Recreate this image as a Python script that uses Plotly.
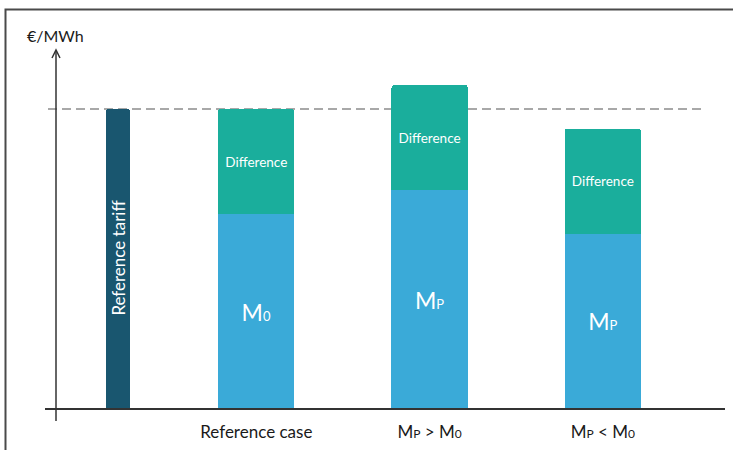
import plotly.graph_objects as go

# Values in €/MWh (reference tariff normalised to 100)
tariff_label = ["Reference tariff"]
tariff_value = [100]

cases = ["Reference case", "MP > M0", "MP < M0"]
market_values = [65, 73, 58.5]
differences = [35, 35, 35]

case_ticks = [
    "Reference case",
    "M<span style='font-size:12px'>P</span> &gt; M<span style='font-size:12px'>0</span>",
    "M<span style='font-size:12px'>P</span> &lt; M<span style='font-size:12px'>0</span>",
]
market_labels = [
    "M<span style='font-size:13px'>0</span>",
    "M<span style='font-size:13px'>P</span>",
    "M<span style='font-size:13px'>P</span>",
]
diff_labels = ["Difference"] * 3

DARK = "#19566f"
BLUE = "#3aaad8"
TEAL = "#1aae9c"
FONT = "Lato"

W, H = 733, 450
ML, MR, MT, MB = 56, 8, 40, 41
PW, PH = W - ML - MR, H - MT - MB

TARIFF_WIDTH, TARIFF_OFFSET = 0.139, 0.133


def px_x(p):
    return (p - ML) / PW


def px_y(p):
    return (H - MB - p) / PH


fig = go.Figure()

fig.add_trace(go.Bar(
    x=tariff_label, y=tariff_value,
    width=TARIFF_WIDTH, offset=TARIFF_OFFSET,
    marker=dict(color=DARK, cornerradius=3, line=dict(width=0)),
    hoverinfo="skip",
))
fig.add_trace(go.Bar(
    x=cases, y=market_values, width=0.44,
    marker=dict(color=BLUE, line=dict(width=0)),
    text=market_labels, textposition="inside", insidetextanchor="middle",
    textangle=0, textfont=dict(color="white", size=23, family=FONT),
    hoverinfo="skip",
))
fig.add_trace(go.Bar(
    x=cases, y=differences, width=0.44,
    marker=dict(color=TEAL, line=dict(width=0)),
    text=diff_labels, textposition="inside", insidetextanchor="middle",
    textangle=0, textfont=dict(color="white", size=13.5, family=FONT),
    hoverinfo="skip",
))

shapes = [
    # outer frame
    dict(type="rect", xref="paper", yref="paper",
         x0=px_x(5.5), x1=px_x(760), y0=px_y(470), y1=px_y(9.5),
         line=dict(color="#4a4a4a", width=2), fillcolor="rgba(0,0,0,0)", layer="below"),
    # reference tariff level
    dict(type="line", xref="paper", yref="y",
         x0=px_x(48), x1=px_x(706), y0=tariff_value[0], y1=tariff_value[0],
         line=dict(color="#a8a8a8", width=2, dash="9px,5px"), layer="below"),
    # x axis
    dict(type="line", xref="paper", yref="paper",
         x0=px_x(45), x1=px_x(725), y0=0, y1=0,
         line=dict(color="#333333", width=2)),
    # y axis with open arrow head
    dict(type="line", xref="paper", yref="paper",
         x0=0, x1=0, y0=px_y(421), y1=px_y(51),
         line=dict(color="#333333", width=1.5)),
    dict(type="path", xref="paper", yref="paper",
         path=f"M {px_x(52)} {px_y(58)} L {px_x(56)} {px_y(50)} L {px_x(60)} {px_y(58)}",
         line=dict(color="#333333", width=1.5)),
]

annotations = [
    dict(text="€/MWh", xref="paper", yref="paper",
         x=px_x(55), y=px_y(35), xanchor="center", yanchor="middle",
         showarrow=False, font=dict(size=16, family=FONT, color="#1a1a1a")),
    # vertical label centred on the tariff bar
    dict(text=tariff_label[0], xref="x", yref="y",
         x=TARIFF_OFFSET + TARIFF_WIDTH / 2, y=tariff_value[0] / 2 + 0.5,
         xanchor="center", yanchor="middle", textangle=-90,
         showarrow=False, font=dict(size=17, family=FONT, color="white")),
]

fig.update_layout(
    width=W, height=H,
    margin=dict(l=ML, r=MR, t=MT, b=MB),
    paper_bgcolor="white", plot_bgcolor="white",
    barmode="stack", showlegend=False,
    font=dict(family=FONT, color="#1a1a1a"),
    shapes=shapes,
    annotations=annotations,
    xaxis=dict(
        type="category",
        categoryorder="array", categoryarray=tariff_label + cases,
        range=[-0.156, 3.705],
        tickvals=cases, ticktext=case_ticks,
        tickfont=dict(size=17, family=FONT, color="#1a1a1a"),
        ticks="", showline=False, showgrid=False, zeroline=False,
        ticklabelstandoff=11,
    ),
    yaxis=dict(
        range=[0, 123], visible=False, showgrid=False, zeroline=False,
    ),
)

fig.write_html("out.html")
